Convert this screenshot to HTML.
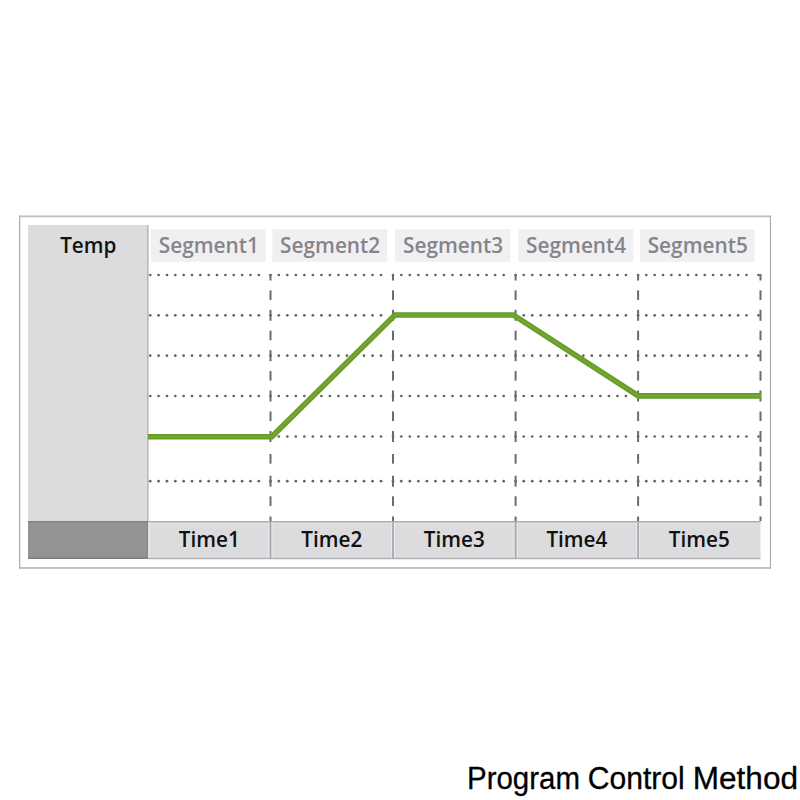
<!DOCTYPE html>
<html><head><meta charset="utf-8"><title>Program Control Method</title>
<style>
html,body{margin:0;padding:0;background:#fff;width:800px;height:800px;overflow:hidden;}
svg{display:block;}
</style></head>
<body><svg width="800" height="800" viewBox="0 0 800 800"><rect x="19" y="215.5" width="752" height="1.7" fill="#bdbdc0"/>
<rect x="19" y="567.1" width="752" height="1.7" fill="#b9b9bc"/>
<rect x="19" y="215.5" width="1.1" height="353.3" fill="#adadb0"/>
<rect x="20.1" y="217.2" width="1.1" height="349.9" fill="#e8e8ea"/>
<rect x="769.9" y="215.5" width="1.1" height="353.3" fill="#a9a9ad"/>
<rect x="28" y="225" width="119.5" height="296.5" fill="#dcdcde"/>
<rect x="147" y="225" width="1.6" height="296.5" fill="#b8b8bb"/>
<rect x="28" y="521" width="120" height="38" fill="#939396"/>
<rect x="28" y="521" width="120" height="1.3" fill="#828285"/>
<rect x="28" y="557.6" width="120" height="1.4" fill="#7c7c7f"/>
<rect x="148" y="521" width="612.5" height="38" fill="#dcdcde"/>
<rect x="148" y="521" width="612.5" height="1.6" fill="#afafb2"/>
<rect x="148" y="522.8" width="612.5" height="1.1" fill="#e4e4e6"/>
<rect x="148.9" y="522.6" width="1" height="35.2" fill="#e8e8ea"/>
<rect x="146.6" y="521" width="1.4" height="38" fill="#8a8a8d"/>
<rect x="148" y="557.8" width="612.5" height="1.4" fill="#b0b0b3"/>
<rect x="268.50" y="522.6" width="1" height="35.2" fill="#e8e8ea"/>
<rect x="271.50" y="522.6" width="1" height="35.2" fill="#e8e8ea"/>
<rect x="269.70" y="521" width="1.6" height="38" fill="#a6a6aa"/>
<rect x="391.00" y="522.6" width="1" height="35.2" fill="#e8e8ea"/>
<rect x="394.00" y="522.6" width="1" height="35.2" fill="#e8e8ea"/>
<rect x="392.20" y="521" width="1.6" height="38" fill="#a6a6aa"/>
<rect x="513.60" y="522.6" width="1" height="35.2" fill="#e8e8ea"/>
<rect x="516.60" y="522.6" width="1" height="35.2" fill="#e8e8ea"/>
<rect x="514.80" y="521" width="1.6" height="38" fill="#a6a6aa"/>
<rect x="636.10" y="522.6" width="1" height="35.2" fill="#e8e8ea"/>
<rect x="639.10" y="522.6" width="1" height="35.2" fill="#e8e8ea"/>
<rect x="637.30" y="521" width="1.6" height="38" fill="#a6a6aa"/>
<rect x="151" y="229.2" width="114.8" height="32.6" fill="#f0f0f2"/>
<rect x="272.3" y="229.2" width="114.9" height="32.6" fill="#f0f0f2"/>
<rect x="395" y="229.2" width="115.3" height="32.6" fill="#f0f0f2"/>
<rect x="518.2" y="229.2" width="115.1" height="32.6" fill="#f0f0f2"/>
<rect x="640" y="229.2" width="114.7" height="32.6" fill="#f0f0f2"/>
<g fill="#636367"><circle cx="150.25" cy="275.0" r="1.35"/><circle cx="158.60" cy="275.0" r="1.35"/><circle cx="166.95" cy="275.0" r="1.35"/><circle cx="175.30" cy="275.0" r="1.35"/><circle cx="183.65" cy="275.0" r="1.35"/><circle cx="192.00" cy="275.0" r="1.35"/><circle cx="200.35" cy="275.0" r="1.35"/><circle cx="208.70" cy="275.0" r="1.35"/><circle cx="217.05" cy="275.0" r="1.35"/><circle cx="225.40" cy="275.0" r="1.35"/><circle cx="233.75" cy="275.0" r="1.35"/><circle cx="242.10" cy="275.0" r="1.35"/><circle cx="250.45" cy="275.0" r="1.35"/><circle cx="258.80" cy="275.0" r="1.35"/><circle cx="278.80" cy="275.0" r="1.35"/><circle cx="287.32" cy="275.0" r="1.35"/><circle cx="295.84" cy="275.0" r="1.35"/><circle cx="304.36" cy="275.0" r="1.35"/><circle cx="312.88" cy="275.0" r="1.35"/><circle cx="321.40" cy="275.0" r="1.35"/><circle cx="329.92" cy="275.0" r="1.35"/><circle cx="338.44" cy="275.0" r="1.35"/><circle cx="346.96" cy="275.0" r="1.35"/><circle cx="355.48" cy="275.0" r="1.35"/><circle cx="364.00" cy="275.0" r="1.35"/><circle cx="372.52" cy="275.0" r="1.35"/><circle cx="381.04" cy="275.0" r="1.35"/><circle cx="401.30" cy="275.0" r="1.35"/><circle cx="409.83" cy="275.0" r="1.35"/><circle cx="418.36" cy="275.0" r="1.35"/><circle cx="426.89" cy="275.0" r="1.35"/><circle cx="435.42" cy="275.0" r="1.35"/><circle cx="443.95" cy="275.0" r="1.35"/><circle cx="452.48" cy="275.0" r="1.35"/><circle cx="461.01" cy="275.0" r="1.35"/><circle cx="469.54" cy="275.0" r="1.35"/><circle cx="478.07" cy="275.0" r="1.35"/><circle cx="486.60" cy="275.0" r="1.35"/><circle cx="495.13" cy="275.0" r="1.35"/><circle cx="503.66" cy="275.0" r="1.35"/><circle cx="523.70" cy="275.0" r="1.35"/><circle cx="532.22" cy="275.0" r="1.35"/><circle cx="540.74" cy="275.0" r="1.35"/><circle cx="549.26" cy="275.0" r="1.35"/><circle cx="557.78" cy="275.0" r="1.35"/><circle cx="566.30" cy="275.0" r="1.35"/><circle cx="574.82" cy="275.0" r="1.35"/><circle cx="583.34" cy="275.0" r="1.35"/><circle cx="591.86" cy="275.0" r="1.35"/><circle cx="600.38" cy="275.0" r="1.35"/><circle cx="608.90" cy="275.0" r="1.35"/><circle cx="617.42" cy="275.0" r="1.35"/><circle cx="625.94" cy="275.0" r="1.35"/><circle cx="646.30" cy="275.0" r="1.35"/><circle cx="654.65" cy="275.0" r="1.35"/><circle cx="663.00" cy="275.0" r="1.35"/><circle cx="671.35" cy="275.0" r="1.35"/><circle cx="679.70" cy="275.0" r="1.35"/><circle cx="688.05" cy="275.0" r="1.35"/><circle cx="696.40" cy="275.0" r="1.35"/><circle cx="704.75" cy="275.0" r="1.35"/><circle cx="713.10" cy="275.0" r="1.35"/><circle cx="721.45" cy="275.0" r="1.35"/><circle cx="729.80" cy="275.0" r="1.35"/><circle cx="738.15" cy="275.0" r="1.35"/><circle cx="746.50" cy="275.0" r="1.35"/><circle cx="270.50" cy="275.0" r="1.35"/><circle cx="393.00" cy="275.0" r="1.35"/><circle cx="515.60" cy="275.0" r="1.35"/><circle cx="638.10" cy="275.0" r="1.35"/><circle cx="758.50" cy="275.0" r="1.35"/><circle cx="150.25" cy="315.3" r="1.35"/><circle cx="158.60" cy="315.3" r="1.35"/><circle cx="166.95" cy="315.3" r="1.35"/><circle cx="175.30" cy="315.3" r="1.35"/><circle cx="183.65" cy="315.3" r="1.35"/><circle cx="192.00" cy="315.3" r="1.35"/><circle cx="200.35" cy="315.3" r="1.35"/><circle cx="208.70" cy="315.3" r="1.35"/><circle cx="217.05" cy="315.3" r="1.35"/><circle cx="225.40" cy="315.3" r="1.35"/><circle cx="233.75" cy="315.3" r="1.35"/><circle cx="242.10" cy="315.3" r="1.35"/><circle cx="250.45" cy="315.3" r="1.35"/><circle cx="258.80" cy="315.3" r="1.35"/><circle cx="278.80" cy="315.3" r="1.35"/><circle cx="287.32" cy="315.3" r="1.35"/><circle cx="295.84" cy="315.3" r="1.35"/><circle cx="304.36" cy="315.3" r="1.35"/><circle cx="312.88" cy="315.3" r="1.35"/><circle cx="321.40" cy="315.3" r="1.35"/><circle cx="329.92" cy="315.3" r="1.35"/><circle cx="338.44" cy="315.3" r="1.35"/><circle cx="346.96" cy="315.3" r="1.35"/><circle cx="355.48" cy="315.3" r="1.35"/><circle cx="364.00" cy="315.3" r="1.35"/><circle cx="372.52" cy="315.3" r="1.35"/><circle cx="381.04" cy="315.3" r="1.35"/><circle cx="401.30" cy="315.3" r="1.35"/><circle cx="409.83" cy="315.3" r="1.35"/><circle cx="418.36" cy="315.3" r="1.35"/><circle cx="426.89" cy="315.3" r="1.35"/><circle cx="435.42" cy="315.3" r="1.35"/><circle cx="443.95" cy="315.3" r="1.35"/><circle cx="452.48" cy="315.3" r="1.35"/><circle cx="461.01" cy="315.3" r="1.35"/><circle cx="469.54" cy="315.3" r="1.35"/><circle cx="478.07" cy="315.3" r="1.35"/><circle cx="486.60" cy="315.3" r="1.35"/><circle cx="495.13" cy="315.3" r="1.35"/><circle cx="503.66" cy="315.3" r="1.35"/><circle cx="523.70" cy="315.3" r="1.35"/><circle cx="532.22" cy="315.3" r="1.35"/><circle cx="540.74" cy="315.3" r="1.35"/><circle cx="549.26" cy="315.3" r="1.35"/><circle cx="557.78" cy="315.3" r="1.35"/><circle cx="566.30" cy="315.3" r="1.35"/><circle cx="574.82" cy="315.3" r="1.35"/><circle cx="583.34" cy="315.3" r="1.35"/><circle cx="591.86" cy="315.3" r="1.35"/><circle cx="600.38" cy="315.3" r="1.35"/><circle cx="608.90" cy="315.3" r="1.35"/><circle cx="617.42" cy="315.3" r="1.35"/><circle cx="625.94" cy="315.3" r="1.35"/><circle cx="646.30" cy="315.3" r="1.35"/><circle cx="654.65" cy="315.3" r="1.35"/><circle cx="663.00" cy="315.3" r="1.35"/><circle cx="671.35" cy="315.3" r="1.35"/><circle cx="679.70" cy="315.3" r="1.35"/><circle cx="688.05" cy="315.3" r="1.35"/><circle cx="696.40" cy="315.3" r="1.35"/><circle cx="704.75" cy="315.3" r="1.35"/><circle cx="713.10" cy="315.3" r="1.35"/><circle cx="721.45" cy="315.3" r="1.35"/><circle cx="729.80" cy="315.3" r="1.35"/><circle cx="738.15" cy="315.3" r="1.35"/><circle cx="746.50" cy="315.3" r="1.35"/><circle cx="270.50" cy="315.3" r="1.35"/><circle cx="393.00" cy="315.3" r="1.35"/><circle cx="515.60" cy="315.3" r="1.35"/><circle cx="638.10" cy="315.3" r="1.35"/><circle cx="758.50" cy="315.3" r="1.35"/><circle cx="150.25" cy="355.7" r="1.35"/><circle cx="158.60" cy="355.7" r="1.35"/><circle cx="166.95" cy="355.7" r="1.35"/><circle cx="175.30" cy="355.7" r="1.35"/><circle cx="183.65" cy="355.7" r="1.35"/><circle cx="192.00" cy="355.7" r="1.35"/><circle cx="200.35" cy="355.7" r="1.35"/><circle cx="208.70" cy="355.7" r="1.35"/><circle cx="217.05" cy="355.7" r="1.35"/><circle cx="225.40" cy="355.7" r="1.35"/><circle cx="233.75" cy="355.7" r="1.35"/><circle cx="242.10" cy="355.7" r="1.35"/><circle cx="250.45" cy="355.7" r="1.35"/><circle cx="258.80" cy="355.7" r="1.35"/><circle cx="278.80" cy="355.7" r="1.35"/><circle cx="287.32" cy="355.7" r="1.35"/><circle cx="295.84" cy="355.7" r="1.35"/><circle cx="304.36" cy="355.7" r="1.35"/><circle cx="312.88" cy="355.7" r="1.35"/><circle cx="321.40" cy="355.7" r="1.35"/><circle cx="329.92" cy="355.7" r="1.35"/><circle cx="338.44" cy="355.7" r="1.35"/><circle cx="346.96" cy="355.7" r="1.35"/><circle cx="355.48" cy="355.7" r="1.35"/><circle cx="364.00" cy="355.7" r="1.35"/><circle cx="372.52" cy="355.7" r="1.35"/><circle cx="381.04" cy="355.7" r="1.35"/><circle cx="401.30" cy="355.7" r="1.35"/><circle cx="409.83" cy="355.7" r="1.35"/><circle cx="418.36" cy="355.7" r="1.35"/><circle cx="426.89" cy="355.7" r="1.35"/><circle cx="435.42" cy="355.7" r="1.35"/><circle cx="443.95" cy="355.7" r="1.35"/><circle cx="452.48" cy="355.7" r="1.35"/><circle cx="461.01" cy="355.7" r="1.35"/><circle cx="469.54" cy="355.7" r="1.35"/><circle cx="478.07" cy="355.7" r="1.35"/><circle cx="486.60" cy="355.7" r="1.35"/><circle cx="495.13" cy="355.7" r="1.35"/><circle cx="503.66" cy="355.7" r="1.35"/><circle cx="523.70" cy="355.7" r="1.35"/><circle cx="532.22" cy="355.7" r="1.35"/><circle cx="540.74" cy="355.7" r="1.35"/><circle cx="549.26" cy="355.7" r="1.35"/><circle cx="557.78" cy="355.7" r="1.35"/><circle cx="566.30" cy="355.7" r="1.35"/><circle cx="574.82" cy="355.7" r="1.35"/><circle cx="583.34" cy="355.7" r="1.35"/><circle cx="591.86" cy="355.7" r="1.35"/><circle cx="600.38" cy="355.7" r="1.35"/><circle cx="608.90" cy="355.7" r="1.35"/><circle cx="617.42" cy="355.7" r="1.35"/><circle cx="625.94" cy="355.7" r="1.35"/><circle cx="646.30" cy="355.7" r="1.35"/><circle cx="654.65" cy="355.7" r="1.35"/><circle cx="663.00" cy="355.7" r="1.35"/><circle cx="671.35" cy="355.7" r="1.35"/><circle cx="679.70" cy="355.7" r="1.35"/><circle cx="688.05" cy="355.7" r="1.35"/><circle cx="696.40" cy="355.7" r="1.35"/><circle cx="704.75" cy="355.7" r="1.35"/><circle cx="713.10" cy="355.7" r="1.35"/><circle cx="721.45" cy="355.7" r="1.35"/><circle cx="729.80" cy="355.7" r="1.35"/><circle cx="738.15" cy="355.7" r="1.35"/><circle cx="746.50" cy="355.7" r="1.35"/><circle cx="270.50" cy="355.7" r="1.35"/><circle cx="393.00" cy="355.7" r="1.35"/><circle cx="515.60" cy="355.7" r="1.35"/><circle cx="638.10" cy="355.7" r="1.35"/><circle cx="758.50" cy="355.7" r="1.35"/><circle cx="150.25" cy="396.0" r="1.35"/><circle cx="158.60" cy="396.0" r="1.35"/><circle cx="166.95" cy="396.0" r="1.35"/><circle cx="175.30" cy="396.0" r="1.35"/><circle cx="183.65" cy="396.0" r="1.35"/><circle cx="192.00" cy="396.0" r="1.35"/><circle cx="200.35" cy="396.0" r="1.35"/><circle cx="208.70" cy="396.0" r="1.35"/><circle cx="217.05" cy="396.0" r="1.35"/><circle cx="225.40" cy="396.0" r="1.35"/><circle cx="233.75" cy="396.0" r="1.35"/><circle cx="242.10" cy="396.0" r="1.35"/><circle cx="250.45" cy="396.0" r="1.35"/><circle cx="258.80" cy="396.0" r="1.35"/><circle cx="278.80" cy="396.0" r="1.35"/><circle cx="287.32" cy="396.0" r="1.35"/><circle cx="295.84" cy="396.0" r="1.35"/><circle cx="304.36" cy="396.0" r="1.35"/><circle cx="312.88" cy="396.0" r="1.35"/><circle cx="321.40" cy="396.0" r="1.35"/><circle cx="329.92" cy="396.0" r="1.35"/><circle cx="338.44" cy="396.0" r="1.35"/><circle cx="346.96" cy="396.0" r="1.35"/><circle cx="355.48" cy="396.0" r="1.35"/><circle cx="364.00" cy="396.0" r="1.35"/><circle cx="372.52" cy="396.0" r="1.35"/><circle cx="381.04" cy="396.0" r="1.35"/><circle cx="401.30" cy="396.0" r="1.35"/><circle cx="409.83" cy="396.0" r="1.35"/><circle cx="418.36" cy="396.0" r="1.35"/><circle cx="426.89" cy="396.0" r="1.35"/><circle cx="435.42" cy="396.0" r="1.35"/><circle cx="443.95" cy="396.0" r="1.35"/><circle cx="452.48" cy="396.0" r="1.35"/><circle cx="461.01" cy="396.0" r="1.35"/><circle cx="469.54" cy="396.0" r="1.35"/><circle cx="478.07" cy="396.0" r="1.35"/><circle cx="486.60" cy="396.0" r="1.35"/><circle cx="495.13" cy="396.0" r="1.35"/><circle cx="503.66" cy="396.0" r="1.35"/><circle cx="523.70" cy="396.0" r="1.35"/><circle cx="532.22" cy="396.0" r="1.35"/><circle cx="540.74" cy="396.0" r="1.35"/><circle cx="549.26" cy="396.0" r="1.35"/><circle cx="557.78" cy="396.0" r="1.35"/><circle cx="566.30" cy="396.0" r="1.35"/><circle cx="574.82" cy="396.0" r="1.35"/><circle cx="583.34" cy="396.0" r="1.35"/><circle cx="591.86" cy="396.0" r="1.35"/><circle cx="600.38" cy="396.0" r="1.35"/><circle cx="608.90" cy="396.0" r="1.35"/><circle cx="617.42" cy="396.0" r="1.35"/><circle cx="625.94" cy="396.0" r="1.35"/><circle cx="646.30" cy="396.0" r="1.35"/><circle cx="654.65" cy="396.0" r="1.35"/><circle cx="663.00" cy="396.0" r="1.35"/><circle cx="671.35" cy="396.0" r="1.35"/><circle cx="679.70" cy="396.0" r="1.35"/><circle cx="688.05" cy="396.0" r="1.35"/><circle cx="696.40" cy="396.0" r="1.35"/><circle cx="704.75" cy="396.0" r="1.35"/><circle cx="713.10" cy="396.0" r="1.35"/><circle cx="721.45" cy="396.0" r="1.35"/><circle cx="729.80" cy="396.0" r="1.35"/><circle cx="738.15" cy="396.0" r="1.35"/><circle cx="746.50" cy="396.0" r="1.35"/><circle cx="270.50" cy="396.0" r="1.35"/><circle cx="393.00" cy="396.0" r="1.35"/><circle cx="515.60" cy="396.0" r="1.35"/><circle cx="638.10" cy="396.0" r="1.35"/><circle cx="758.50" cy="396.0" r="1.35"/><circle cx="150.25" cy="436.5" r="1.35"/><circle cx="158.60" cy="436.5" r="1.35"/><circle cx="166.95" cy="436.5" r="1.35"/><circle cx="175.30" cy="436.5" r="1.35"/><circle cx="183.65" cy="436.5" r="1.35"/><circle cx="192.00" cy="436.5" r="1.35"/><circle cx="200.35" cy="436.5" r="1.35"/><circle cx="208.70" cy="436.5" r="1.35"/><circle cx="217.05" cy="436.5" r="1.35"/><circle cx="225.40" cy="436.5" r="1.35"/><circle cx="233.75" cy="436.5" r="1.35"/><circle cx="242.10" cy="436.5" r="1.35"/><circle cx="250.45" cy="436.5" r="1.35"/><circle cx="258.80" cy="436.5" r="1.35"/><circle cx="278.80" cy="436.5" r="1.35"/><circle cx="287.32" cy="436.5" r="1.35"/><circle cx="295.84" cy="436.5" r="1.35"/><circle cx="304.36" cy="436.5" r="1.35"/><circle cx="312.88" cy="436.5" r="1.35"/><circle cx="321.40" cy="436.5" r="1.35"/><circle cx="329.92" cy="436.5" r="1.35"/><circle cx="338.44" cy="436.5" r="1.35"/><circle cx="346.96" cy="436.5" r="1.35"/><circle cx="355.48" cy="436.5" r="1.35"/><circle cx="364.00" cy="436.5" r="1.35"/><circle cx="372.52" cy="436.5" r="1.35"/><circle cx="381.04" cy="436.5" r="1.35"/><circle cx="401.30" cy="436.5" r="1.35"/><circle cx="409.83" cy="436.5" r="1.35"/><circle cx="418.36" cy="436.5" r="1.35"/><circle cx="426.89" cy="436.5" r="1.35"/><circle cx="435.42" cy="436.5" r="1.35"/><circle cx="443.95" cy="436.5" r="1.35"/><circle cx="452.48" cy="436.5" r="1.35"/><circle cx="461.01" cy="436.5" r="1.35"/><circle cx="469.54" cy="436.5" r="1.35"/><circle cx="478.07" cy="436.5" r="1.35"/><circle cx="486.60" cy="436.5" r="1.35"/><circle cx="495.13" cy="436.5" r="1.35"/><circle cx="503.66" cy="436.5" r="1.35"/><circle cx="523.70" cy="436.5" r="1.35"/><circle cx="532.22" cy="436.5" r="1.35"/><circle cx="540.74" cy="436.5" r="1.35"/><circle cx="549.26" cy="436.5" r="1.35"/><circle cx="557.78" cy="436.5" r="1.35"/><circle cx="566.30" cy="436.5" r="1.35"/><circle cx="574.82" cy="436.5" r="1.35"/><circle cx="583.34" cy="436.5" r="1.35"/><circle cx="591.86" cy="436.5" r="1.35"/><circle cx="600.38" cy="436.5" r="1.35"/><circle cx="608.90" cy="436.5" r="1.35"/><circle cx="617.42" cy="436.5" r="1.35"/><circle cx="625.94" cy="436.5" r="1.35"/><circle cx="646.30" cy="436.5" r="1.35"/><circle cx="654.65" cy="436.5" r="1.35"/><circle cx="663.00" cy="436.5" r="1.35"/><circle cx="671.35" cy="436.5" r="1.35"/><circle cx="679.70" cy="436.5" r="1.35"/><circle cx="688.05" cy="436.5" r="1.35"/><circle cx="696.40" cy="436.5" r="1.35"/><circle cx="704.75" cy="436.5" r="1.35"/><circle cx="713.10" cy="436.5" r="1.35"/><circle cx="721.45" cy="436.5" r="1.35"/><circle cx="729.80" cy="436.5" r="1.35"/><circle cx="738.15" cy="436.5" r="1.35"/><circle cx="746.50" cy="436.5" r="1.35"/><circle cx="270.50" cy="436.5" r="1.35"/><circle cx="393.00" cy="436.5" r="1.35"/><circle cx="515.60" cy="436.5" r="1.35"/><circle cx="638.10" cy="436.5" r="1.35"/><circle cx="758.50" cy="436.5" r="1.35"/><circle cx="150.25" cy="481.2" r="1.35"/><circle cx="158.60" cy="481.2" r="1.35"/><circle cx="166.95" cy="481.2" r="1.35"/><circle cx="175.30" cy="481.2" r="1.35"/><circle cx="183.65" cy="481.2" r="1.35"/><circle cx="192.00" cy="481.2" r="1.35"/><circle cx="200.35" cy="481.2" r="1.35"/><circle cx="208.70" cy="481.2" r="1.35"/><circle cx="217.05" cy="481.2" r="1.35"/><circle cx="225.40" cy="481.2" r="1.35"/><circle cx="233.75" cy="481.2" r="1.35"/><circle cx="242.10" cy="481.2" r="1.35"/><circle cx="250.45" cy="481.2" r="1.35"/><circle cx="258.80" cy="481.2" r="1.35"/><circle cx="278.80" cy="481.2" r="1.35"/><circle cx="287.32" cy="481.2" r="1.35"/><circle cx="295.84" cy="481.2" r="1.35"/><circle cx="304.36" cy="481.2" r="1.35"/><circle cx="312.88" cy="481.2" r="1.35"/><circle cx="321.40" cy="481.2" r="1.35"/><circle cx="329.92" cy="481.2" r="1.35"/><circle cx="338.44" cy="481.2" r="1.35"/><circle cx="346.96" cy="481.2" r="1.35"/><circle cx="355.48" cy="481.2" r="1.35"/><circle cx="364.00" cy="481.2" r="1.35"/><circle cx="372.52" cy="481.2" r="1.35"/><circle cx="381.04" cy="481.2" r="1.35"/><circle cx="401.30" cy="481.2" r="1.35"/><circle cx="409.83" cy="481.2" r="1.35"/><circle cx="418.36" cy="481.2" r="1.35"/><circle cx="426.89" cy="481.2" r="1.35"/><circle cx="435.42" cy="481.2" r="1.35"/><circle cx="443.95" cy="481.2" r="1.35"/><circle cx="452.48" cy="481.2" r="1.35"/><circle cx="461.01" cy="481.2" r="1.35"/><circle cx="469.54" cy="481.2" r="1.35"/><circle cx="478.07" cy="481.2" r="1.35"/><circle cx="486.60" cy="481.2" r="1.35"/><circle cx="495.13" cy="481.2" r="1.35"/><circle cx="503.66" cy="481.2" r="1.35"/><circle cx="523.70" cy="481.2" r="1.35"/><circle cx="532.22" cy="481.2" r="1.35"/><circle cx="540.74" cy="481.2" r="1.35"/><circle cx="549.26" cy="481.2" r="1.35"/><circle cx="557.78" cy="481.2" r="1.35"/><circle cx="566.30" cy="481.2" r="1.35"/><circle cx="574.82" cy="481.2" r="1.35"/><circle cx="583.34" cy="481.2" r="1.35"/><circle cx="591.86" cy="481.2" r="1.35"/><circle cx="600.38" cy="481.2" r="1.35"/><circle cx="608.90" cy="481.2" r="1.35"/><circle cx="617.42" cy="481.2" r="1.35"/><circle cx="625.94" cy="481.2" r="1.35"/><circle cx="646.30" cy="481.2" r="1.35"/><circle cx="654.65" cy="481.2" r="1.35"/><circle cx="663.00" cy="481.2" r="1.35"/><circle cx="671.35" cy="481.2" r="1.35"/><circle cx="679.70" cy="481.2" r="1.35"/><circle cx="688.05" cy="481.2" r="1.35"/><circle cx="696.40" cy="481.2" r="1.35"/><circle cx="704.75" cy="481.2" r="1.35"/><circle cx="713.10" cy="481.2" r="1.35"/><circle cx="721.45" cy="481.2" r="1.35"/><circle cx="729.80" cy="481.2" r="1.35"/><circle cx="738.15" cy="481.2" r="1.35"/><circle cx="746.50" cy="481.2" r="1.35"/><circle cx="270.50" cy="481.2" r="1.35"/><circle cx="393.00" cy="481.2" r="1.35"/><circle cx="515.60" cy="481.2" r="1.35"/><circle cx="638.10" cy="481.2" r="1.35"/><circle cx="758.50" cy="481.2" r="1.35"/></g>
<rect x="269.50" y="274.00" width="2" height="6.50" fill="#6c6c70"/>
<rect x="269.50" y="309.80" width="2" height="11.00" fill="#6c6c70"/>
<rect x="269.50" y="350.20" width="2" height="11.00" fill="#6c6c70"/>
<rect x="269.50" y="390.50" width="2" height="11.00" fill="#6c6c70"/>
<rect x="269.50" y="431.00" width="2" height="11.00" fill="#6c6c70"/>
<rect x="269.50" y="475.70" width="2" height="11.00" fill="#6c6c70"/>
<rect x="269.50" y="516.50" width="2" height="4.50" fill="#6c6c70"/>
<rect x="269.50" y="290.35" width="2" height="9.60" fill="#6c6c70"/>
<rect x="269.50" y="330.70" width="2" height="9.60" fill="#6c6c70"/>
<rect x="269.50" y="371.05" width="2" height="9.60" fill="#6c6c70"/>
<rect x="269.50" y="411.45" width="2" height="9.60" fill="#6c6c70"/>
<rect x="269.50" y="454.05" width="2" height="9.60" fill="#6c6c70"/>
<rect x="269.50" y="496.30" width="2" height="9.60" fill="#6c6c70"/>
<rect x="392.00" y="274.00" width="2" height="6.50" fill="#6c6c70"/>
<rect x="392.00" y="309.80" width="2" height="11.00" fill="#6c6c70"/>
<rect x="392.00" y="350.20" width="2" height="11.00" fill="#6c6c70"/>
<rect x="392.00" y="390.50" width="2" height="11.00" fill="#6c6c70"/>
<rect x="392.00" y="431.00" width="2" height="11.00" fill="#6c6c70"/>
<rect x="392.00" y="475.70" width="2" height="11.00" fill="#6c6c70"/>
<rect x="392.00" y="516.50" width="2" height="4.50" fill="#6c6c70"/>
<rect x="392.00" y="290.35" width="2" height="9.60" fill="#6c6c70"/>
<rect x="392.00" y="330.70" width="2" height="9.60" fill="#6c6c70"/>
<rect x="392.00" y="371.05" width="2" height="9.60" fill="#6c6c70"/>
<rect x="392.00" y="411.45" width="2" height="9.60" fill="#6c6c70"/>
<rect x="392.00" y="454.05" width="2" height="9.60" fill="#6c6c70"/>
<rect x="392.00" y="496.30" width="2" height="9.60" fill="#6c6c70"/>
<rect x="514.60" y="274.00" width="2" height="6.50" fill="#6c6c70"/>
<rect x="514.60" y="309.80" width="2" height="11.00" fill="#6c6c70"/>
<rect x="514.60" y="350.20" width="2" height="11.00" fill="#6c6c70"/>
<rect x="514.60" y="390.50" width="2" height="11.00" fill="#6c6c70"/>
<rect x="514.60" y="431.00" width="2" height="11.00" fill="#6c6c70"/>
<rect x="514.60" y="475.70" width="2" height="11.00" fill="#6c6c70"/>
<rect x="514.60" y="516.50" width="2" height="4.50" fill="#6c6c70"/>
<rect x="514.60" y="290.35" width="2" height="9.60" fill="#6c6c70"/>
<rect x="514.60" y="330.70" width="2" height="9.60" fill="#6c6c70"/>
<rect x="514.60" y="371.05" width="2" height="9.60" fill="#6c6c70"/>
<rect x="514.60" y="411.45" width="2" height="9.60" fill="#6c6c70"/>
<rect x="514.60" y="454.05" width="2" height="9.60" fill="#6c6c70"/>
<rect x="514.60" y="496.30" width="2" height="9.60" fill="#6c6c70"/>
<rect x="637.10" y="274.00" width="2" height="6.50" fill="#6c6c70"/>
<rect x="637.10" y="309.80" width="2" height="11.00" fill="#6c6c70"/>
<rect x="637.10" y="350.20" width="2" height="11.00" fill="#6c6c70"/>
<rect x="637.10" y="390.50" width="2" height="11.00" fill="#6c6c70"/>
<rect x="637.10" y="431.00" width="2" height="11.00" fill="#6c6c70"/>
<rect x="637.10" y="475.70" width="2" height="11.00" fill="#6c6c70"/>
<rect x="637.10" y="516.50" width="2" height="4.50" fill="#6c6c70"/>
<rect x="637.10" y="290.35" width="2" height="9.60" fill="#6c6c70"/>
<rect x="637.10" y="330.70" width="2" height="9.60" fill="#6c6c70"/>
<rect x="637.10" y="371.05" width="2" height="9.60" fill="#6c6c70"/>
<rect x="637.10" y="411.45" width="2" height="9.60" fill="#6c6c70"/>
<rect x="637.10" y="454.05" width="2" height="9.60" fill="#6c6c70"/>
<rect x="637.10" y="496.30" width="2" height="9.60" fill="#6c6c70"/>
<rect x="759.50" y="274.00" width="2" height="6.50" fill="#6c6c70"/>
<rect x="759.50" y="309.80" width="2" height="11.00" fill="#6c6c70"/>
<rect x="759.50" y="350.20" width="2" height="11.00" fill="#6c6c70"/>
<rect x="759.50" y="390.50" width="2" height="11.00" fill="#6c6c70"/>
<rect x="759.50" y="431.00" width="2" height="11.00" fill="#6c6c70"/>
<rect x="759.50" y="475.70" width="2" height="11.00" fill="#6c6c70"/>
<rect x="759.50" y="516.50" width="2" height="4.50" fill="#6c6c70"/>
<rect x="759.50" y="290.35" width="2" height="9.60" fill="#6c6c70"/>
<rect x="759.50" y="330.70" width="2" height="9.60" fill="#6c6c70"/>
<rect x="759.50" y="371.05" width="2" height="9.60" fill="#6c6c70"/>
<rect x="759.50" y="411.45" width="2" height="9.60" fill="#6c6c70"/>
<rect x="759.50" y="446.70" width="2" height="9.60" fill="#6c6c70"/>
<rect x="759.50" y="461.70" width="2" height="9.60" fill="#6c6c70"/>
<rect x="759.50" y="496.30" width="2" height="9.60" fill="#6c6c70"/>
<polyline points="148,436.7 271.8,436.7 395,315 513.3,315 638.3,395.9 761,395.9" fill="none" stroke="#679d23" stroke-width="5.6" stroke-linejoin="miter"/>
<polyline points="148,436.7 271.8,436.7 395,315 513.3,315 638.3,395.9 761,395.9" fill="none" stroke="#73a535" stroke-width="2.4" stroke-linejoin="miter"/>
<text x="88.30" y="253.20" font-family="&quot;Open Sans&quot;, &quot;Liberation Sans&quot;, sans-serif" font-size="20.7" font-weight="600" fill="#111" text-anchor="middle" textLength="56.23" lengthAdjust="spacingAndGlyphs">Temp</text>
<text x="208.80" y="253.20" font-family="&quot;Open Sans&quot;, &quot;Liberation Sans&quot;, sans-serif" font-size="20.8" font-weight="600" fill="#85858a" text-anchor="middle" textLength="100.11" lengthAdjust="spacingAndGlyphs">Segment1</text>
<text x="330.15" y="253.20" font-family="&quot;Open Sans&quot;, &quot;Liberation Sans&quot;, sans-serif" font-size="20.8" font-weight="600" fill="#85858a" text-anchor="middle" textLength="100.11" lengthAdjust="spacingAndGlyphs">Segment2</text>
<text x="453.05" y="253.20" font-family="&quot;Open Sans&quot;, &quot;Liberation Sans&quot;, sans-serif" font-size="20.8" font-weight="600" fill="#85858a" text-anchor="middle" textLength="100.11" lengthAdjust="spacingAndGlyphs">Segment3</text>
<text x="576.15" y="253.20" font-family="&quot;Open Sans&quot;, &quot;Liberation Sans&quot;, sans-serif" font-size="20.8" font-weight="600" fill="#85858a" text-anchor="middle" textLength="100.11" lengthAdjust="spacingAndGlyphs">Segment4</text>
<text x="697.75" y="253.20" font-family="&quot;Open Sans&quot;, &quot;Liberation Sans&quot;, sans-serif" font-size="20.8" font-weight="600" fill="#85858a" text-anchor="middle" textLength="100.11" lengthAdjust="spacingAndGlyphs">Segment5</text>
<text x="209.25" y="547.20" font-family="&quot;Open Sans&quot;, &quot;Liberation Sans&quot;, sans-serif" font-size="20.7" font-weight="600" fill="#111" text-anchor="middle" textLength="60.95" lengthAdjust="spacingAndGlyphs">Time1</text>
<text x="331.75" y="547.20" font-family="&quot;Open Sans&quot;, &quot;Liberation Sans&quot;, sans-serif" font-size="20.7" font-weight="600" fill="#111" text-anchor="middle" textLength="60.95" lengthAdjust="spacingAndGlyphs">Time2</text>
<text x="454.30" y="547.20" font-family="&quot;Open Sans&quot;, &quot;Liberation Sans&quot;, sans-serif" font-size="20.7" font-weight="600" fill="#111" text-anchor="middle" textLength="60.95" lengthAdjust="spacingAndGlyphs">Time3</text>
<text x="576.85" y="547.20" font-family="&quot;Open Sans&quot;, &quot;Liberation Sans&quot;, sans-serif" font-size="20.7" font-weight="600" fill="#111" text-anchor="middle" textLength="60.95" lengthAdjust="spacingAndGlyphs">Time4</text>
<text x="699.30" y="547.20" font-family="&quot;Open Sans&quot;, &quot;Liberation Sans&quot;, sans-serif" font-size="20.7" font-weight="600" fill="#111" text-anchor="middle" textLength="60.95" lengthAdjust="spacingAndGlyphs">Time5</text>
<text y="788.80" font-family="&quot;Liberation Sans&quot;, sans-serif" font-size="31" fill="#000" stroke="#000" stroke-width="0.3"><tspan x="467.00" textLength="113.00" lengthAdjust="spacingAndGlyphs">Program</tspan> <tspan x="587.80" textLength="97.00" lengthAdjust="spacingAndGlyphs">Control</tspan> <tspan x="692.80" textLength="105.20" lengthAdjust="spacingAndGlyphs">Method</tspan></text></svg></body></html>
